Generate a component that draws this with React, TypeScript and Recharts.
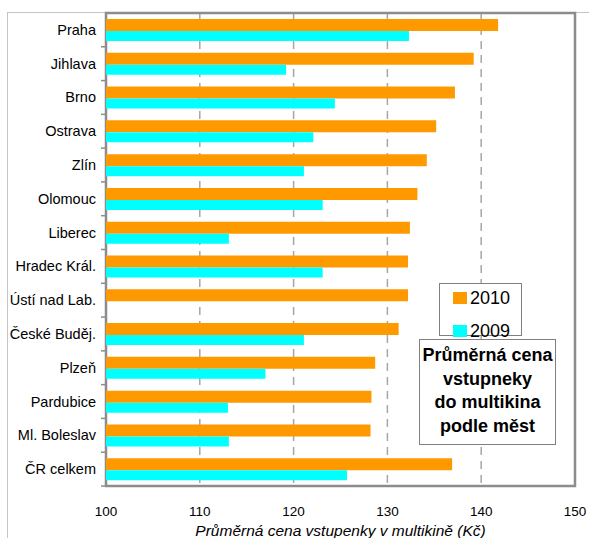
import React from 'react';
import { BarChart, Bar, XAxis, YAxis, CartesianGrid, Legend, ReferenceArea } from 'recharts';

const cities = ['Praha', 'Jihlava', 'Brno', 'Ostrava', 'Zlín', 'Olomouc', 'Liberec', 'Hradec Král.', 'Ústí nad Lab.', 'České Buděj.', 'Plzeň', 'Pardubice', 'Ml. Boleslav', 'ČR celkem'];
const price2010 = [141.8, 139.2, 137.2, 135.2, 134.2, 133.2, 132.4, 132.2, 132.2, 131.2, 128.7, 128.3, 128.2, 136.9];
const price2009 = [132.3, 119.2, 124.4, 122.1, 121.1, 123.1, 113.1, 123.1, null, 121.1, 117.0, 113.0, 113.1, 125.7];
const xTicks = [100, 110, 120, 130, 140, 150];
const legendOrder = ['2010', '2009'];
const axisTitle = 'Průměrná cena vstupenky v multikině (Kč)';
const boxLines = ['Průměrná cena', 'vstupneky', 'do multikina', 'podle měst'];

const data = cities.map((c, i) => ({ city: c, y2010: price2010[i], y2009: price2009[i] }));

const FONT = '"Liberation Sans", Arial, sans-serif';
const PLOT_TOP = 13;
const PLOT_BOTTOM = 486;

const CityTick = (props: any) => {
  const { y, payload } = props;
  const band = (PLOT_BOTTOM - PLOT_TOP) / cities.length;
  return (
    <g>
      <text x={96} y={y} textAnchor="end" dominantBaseline="central" fontSize={14.5} fontFamily={FONT} fill="#000">
        {payload.value}
      </text>
      <line x1={101} x2={106} y1={y + band / 2} y2={y + band / 2} stroke="#8c8c8c" strokeWidth={1.5} />
    </g>
  );
};

const LegendBox = (props: any) => {
  const payload = [...(props.payload || [])].sort(
    (a: any, b: any) => legendOrder.indexOf(String(a.value)) - legendOrder.indexOf(String(b.value))
  );
  return (
    <div style={{ position: 'relative', width: 83, height: 53, boxSizing: 'border-box', border: '1px solid #808080', background: '#fff', fontFamily: FONT }}>
      {payload.map((p: any, i: number) => (
        <div key={p.value} style={{ position: 'absolute', left: 13, top: 2 + i * 33, height: 24, display: 'flex', alignItems: 'center' }}>
          <div style={{ width: 14, height: 12, background: p.color, marginRight: 3 }} />
          <span style={{ fontSize: 18, color: '#000', lineHeight: '24px' }}>{p.value}</span>
        </div>
      ))}
    </div>
  );
};

export default function App() {
  return (
    <div style={{ position: 'absolute', left: 0, top: 0, width: 589, height: 538, overflow: 'hidden', background: '#fff' }}>
      <div style={{ position: 'absolute', left: 7, top: 12, width: 600, height: 600, borderLeft: '1.5px solid #c4c4c4', borderTop: '1.5px solid #c4c4c4' }} />
      <div style={{ position: 'absolute', left: 0, top: 0 }}>
        <BarChart
          width={589}
          height={538}
          data={data}
          layout="vertical"
          margin={{ top: PLOT_TOP, right: 14, left: 0, bottom: 0 }}
          barGap={0}
          barCategoryGap={0}
        >
          <CartesianGrid horizontal={false} stroke="#a6a6a6" strokeWidth={1.5} strokeDasharray="8 6" />
          <XAxis
            type="number"
            domain={[100, 150]}
            ticks={xTicks}
            allowDataOverflow
            height={538 - PLOT_BOTTOM}
            axisLine={false}
            tickLine={false}
            tickMargin={14}
            tick={{ fontSize: 13.5, fill: '#000', fontFamily: FONT }}
            label={{ value: axisTitle, position: 'insideBottom', offset: 2, style: { fontStyle: 'italic', fontSize: 15.5, fill: '#000', fontFamily: FONT } }}
          />
          <YAxis
            type="category"
            dataKey="city"
            width={106}
            axisLine={false}
            tickLine={false}
            interval={0}
            tick={<CityTick />}
          />
          <Bar dataKey="y2010" name="2010" fill="#FF9900" barSize={12} isAnimationActive={false} />
          <Bar dataKey="y2009" name="2009" fill="#00FFFF" barSize={10} isAnimationActive={false} />
          <ReferenceArea x1={100} x2={150} fill="none" fillOpacity={0} stroke="#8c8c8c" strokeWidth={2.5} ifOverflow="visible" />
          <Legend
            layout="vertical"
            align="center"
            verticalAlign="middle"
            content={<LegendBox />}
            wrapperStyle={{ position: 'absolute', left: 439, top: 283, width: 83, height: 53 }}
          />
        </BarChart>
      </div>
      <div
        style={{
          position: 'absolute', left: 419, top: 339, width: 137, height: 106, boxSizing: 'border-box',
          border: '1px solid #808080', background: '#fff', fontFamily: FONT, fontWeight: 'bold', fontSize: 18,
          lineHeight: '23.7px', textAlign: 'center', paddingTop: 4, color: '#000',
        }}
      >
        {boxLines.map((l) => (
          <div key={l}>{l}</div>
        ))}
      </div>
    </div>
  );
}
